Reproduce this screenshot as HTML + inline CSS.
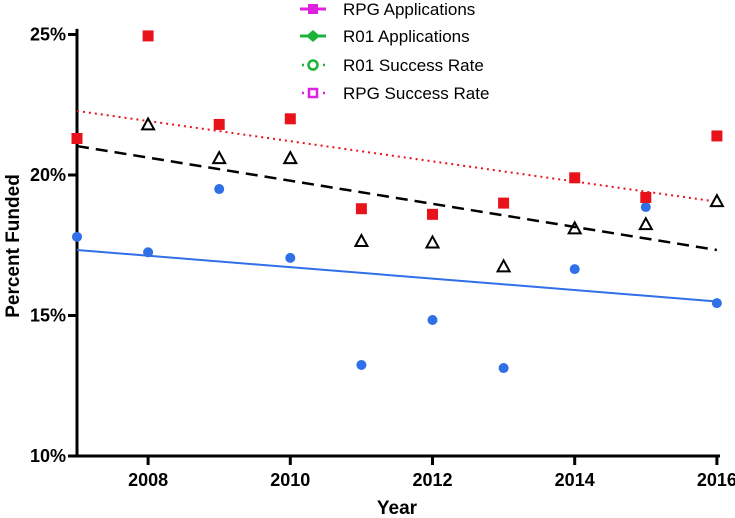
<!DOCTYPE html>
<html><head><meta charset="utf-8"><style>
body{margin:0;background:#fff;}
svg{display:block;font-family:"Liberation Sans",Arial,sans-serif;}
</style></head><body>
<svg id="chart" width="735" height="518" viewBox="0 0 735 518">
<g id="legend">
<g>
<line x1="300" y1="9" x2="326" y2="9" stroke="#e020e0" stroke-width="3"/><rect x="308" y="4" width="10" height="10" fill="#e020e0"/>
<text x="343" y="15" font-size="17">RPG Applications</text></g>
<g>
<line x1="300" y1="36" x2="326" y2="36" stroke="#1db33a" stroke-width="3"/><polygon points="313,30 320,36 313,42 306,36" fill="#1db33a"/>
<text x="343" y="42" font-size="17">R01 Applications</text></g>
<g>
<line x1="302" y1="65" x2="326" y2="65" stroke="#1db33a" stroke-width="2.5" stroke-dasharray="2,5"/><circle cx="313" cy="65" r="4.5" fill="#fff" stroke="#1db33a" stroke-width="2.5"/>
<text x="343" y="71" font-size="17">R01 Success Rate</text></g>
<g>
<line x1="302" y1="93" x2="326" y2="93" stroke="#e020e0" stroke-width="2.5" stroke-dasharray="2,5"/><rect x="309" y="89" width="8" height="8" fill="#fff" stroke="#e020e0" stroke-width="2.5"/>
<text x="343" y="99" font-size="17">RPG Success Rate</text></g>
</g>
<g id="axes"></g>
<g id="marks"></g>
<text transform="translate(19,246) rotate(-90)" text-anchor="middle" font-size="19" font-weight="bold">Percent Funded</text>
<text x="397" y="514" text-anchor="middle" font-size="19" font-weight="bold">Year</text>
</svg>
<script>
const years=[2007,2008,2009,2010,2011,2012,2013,2014,2015,2016];
const rpgRate=[21.3,24.95,21.8,22.0,18.8,18.6,19.0,19.9,19.2,21.39];
const triYears=[2008,2009,2010,2011,2012,2013,2014,2015,2016];
const triRate=[21.8,20.6,20.6,17.65,17.6,16.75,18.1,18.25,19.07];
const r01Rate=[17.8,17.25,19.5,17.05,13.24,14.84,13.13,16.65,18.86,15.44];
const fitYears=[2007,2016];
const rpgFit=[22.28,19.05];
const triFit=[21.03,17.33];
const r01Fit=[17.33,15.5];
const yTicks=[10,15,20,25];
const xTicks=[2008,2010,2012,2014,2016];
const NS="http://www.w3.org/2000/svg";
const X=v=>77+(v-2007)*71.1;
const Y=v=>175-(v-20)*28.1;
function mk(tag,attrs,parent){const e=document.createElementNS(NS,tag);for(const k in attrs)e.setAttribute(k,attrs[k]);parent.appendChild(e);return e;}
const ax=document.getElementById('axes'),mk_=document.getElementById('marks');
let e=mk('line',{x1:77,y1:Y(25.2),x2:77,y2:Y(10)+1.5,stroke:'#000','stroke-width':3},ax);


e=mk('line',{x1:75.5,y1:Y(10),x2:720,y2:Y(10),stroke:'#000','stroke-width':3},ax);


yTicks.forEach(t=>{
 let l=mk('line',{x1:68,y1:Y(t),x2:77,y2:Y(t),stroke:'#000','stroke-width':3},ax);
 
 
 let tx=mk('text',{x:66,y:Y(t)+6,'text-anchor':'end','font-size':18,'font-weight':'bold'},ax);tx.textContent=t+'%';
 
 
});
xTicks.forEach(t=>{
 let l=mk('line',{x1:X(t),y1:Y(10),x2:X(t),y2:Y(10)+9,stroke:'#000','stroke-width':3},ax);
 
 
 let tx=mk('text',{x:X(t),y:Y(10)+30,'text-anchor':'middle','font-size':18,'font-weight':'bold'},ax);tx.textContent=t;
 
 
});
let f=mk('line',{x1:X(fitYears[0]),y1:Y(r01Fit[0]),x2:X(fitYears[1]),y2:Y(r01Fit[1]),stroke:'#2f6fe8','stroke-width':2},mk_);


f=mk('line',{x1:X(fitYears[0]),y1:Y(triFit[0]),x2:X(fitYears[1]),y2:Y(triFit[1]),stroke:'#000','stroke-width':2.5,'stroke-dasharray':'12,7'},mk_);


f=mk('line',{x1:X(fitYears[0]),y1:Y(rpgFit[0]),x2:X(fitYears[1]),y2:Y(rpgFit[1]),stroke:'#e8121b','stroke-width':2,'stroke-dasharray':'2,4'},mk_);


r01Rate.forEach((v,i)=>{
 let c=mk('circle',{cx:X(years[i]),cy:Y(v),r:5,fill:'#2f6fe8'},mk_);
 
 
});
triYears.forEach((yr,i)=>{
 const x=X(yr),y=Y(triRate[i]);
 let p=mk('polygon',{points:`${x},${y-6} ${x+6},${y+5} ${x-6},${y+5}`,fill:'none',stroke:'#000','stroke-width':2},mk_);
 
 
});
rpgRate.forEach((v,i)=>{
 let r=mk('rect',{x:X(years[i])-5.5,y:Y(v)-5.5,width:11,height:11,fill:'#e8121b'},mk_);
 
 
});
</script>
</body></html>
